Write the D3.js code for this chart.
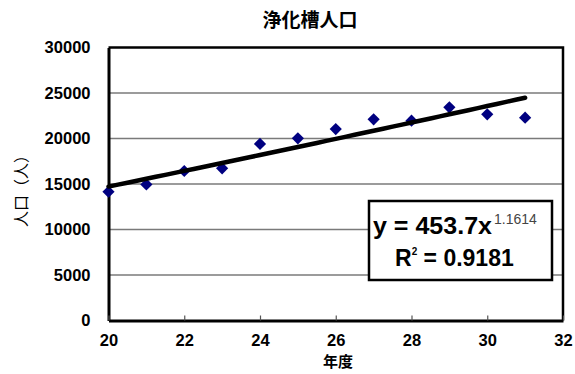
<!DOCTYPE html>
<html>
<head>
<meta charset="utf-8">
<script src="https://cdn.jsdelivr.net/npm/d3@7/dist/d3.min.js"></script>
<style>
  html, body { margin: 0; padding: 0; background: #fff; }
  svg { display: block; }
  text { font-family: "Liberation Sans", Arial, sans-serif; }
  .cjk { font-family: "Noto Sans CJK JP", sans-serif; }
</style>
</head>
<body>
<script>
// 浄化槽人口 by fiscal year
const years = [20, 21, 22, 23, 24, 25, 26, 27, 28, 29, 30, 31];
const population = [14150, 14950, 16430, 16720, 19400, 20020, 21040, 22110, 21960, 23430, 22660, 22290];

// Power trendline y = a * x^b
const trendA = 453.7;
const trendB = 1.1614;
const rSquared = 0.9181;

const xTicks = [20, 22, 24, 26, 28, 30, 32];
const yTicks = [0, 5000, 10000, 15000, 20000, 25000, 30000];

const W = 575, H = 374;
const plotL = 108.5, plotR = 563, plotT = 47.5, plotB = 320.5;

const svg = d3.select("body").append("svg").attr("width", W).attr("height", H);

const x = d3.scaleLinear().domain([20, 32]).range([plotL, plotR]);
const y = d3.scaleLinear().domain([0, 30000]).range([plotB, plotT]);

// Horizontal gridlines
svg.append("g")
  .selectAll("line")
  .data(yTicks.filter(v => v > 0 && v < 30000))
  .join("line")
  .attr("x1", plotL).attr("x2", plotR)
  .attr("y1", d => y(d)).attr("y2", d => y(d))
  .attr("stroke", "#7a7a7a").attr("stroke-width", 1.5);

// Plot frame: top and right edges
svg.append("path")
  .attr("d", `M${plotL},${plotT}H${plotR}V${plotB}`)
  .attr("fill", "none").attr("stroke", "#000").attr("stroke-width", 2.5);

// Y axis
const yAxis = d3.axisLeft(y).tickValues(yTicks).tickSize(0).tickPadding(18).tickFormat(d3.format("d"));
const gy = svg.append("g").attr("transform", `translate(${plotL},0)`).call(yAxis);
gy.select(".domain").attr("stroke", "#000").attr("stroke-width", 3);
gy.selectAll("text")
  .attr("font-size", 16.5).attr("font-weight", "bold").attr("fill", "#000")
  .attr("font-family", "'Liberation Sans', Arial, sans-serif");

// X axis with short inward ticks
const xAxis = d3.axisBottom(x).tickValues(xTicks).tickSizeInner(-5).tickSizeOuter(0).tickPadding(14);
const gx = svg.append("g").attr("transform", `translate(0,${plotB})`).call(xAxis);
gx.select(".domain").attr("stroke", "#000").attr("stroke-width", 3);
gx.selectAll(".tick line").attr("stroke", "#555").attr("stroke-width", 1.2);
gx.selectAll("text")
  .attr("font-size", 16.5).attr("font-weight", "bold").attr("fill", "#000")
  .attr("font-family", "'Liberation Sans', Arial, sans-serif");

// Data markers (diamonds)
const diamond = d3.symbol().type(d3.symbolDiamond2).size(95);
svg.append("g")
  .selectAll("path")
  .data(years.map((yr, i) => [yr, population[i]]))
  .join("path")
  .attr("d", diamond)
  .attr("transform", d => `translate(${x(d[0])},${y(d[1])})`)
  .attr("fill", "#000080");

// Power trendline across the data range
const trendX = d3.range(years[0], years[years.length - 1] + 0.001, 0.25);
const line = d3.line().x(d => x(d)).y(d => y(trendA * Math.pow(d, trendB)));
svg.append("path")
  .datum(trendX)
  .attr("d", line)
  .attr("fill", "none").attr("stroke", "#000").attr("stroke-width", 4.5)
  .attr("stroke-linecap", "round");

// Equation box
const box = svg.append("g");
box.append("rect")
  .attr("x", 369).attr("y", 201).attr("width", 183).attr("height", 79)
  .attr("fill", "#fff").attr("stroke", "#000").attr("stroke-width", 2.5);

const eq = box.append("text").attr("x", 373).attr("y", 234)
  .attr("font-size", 23).attr("font-weight", "bold").attr("fill", "#000");
eq.append("tspan").attr("textLength", 119).attr("lengthAdjust", "spacingAndGlyphs")
  .text(`y = ${trendA}x`);
eq.append("tspan").attr("x", 494).attr("dy", -10).attr("font-size", 14).attr("font-weight", "normal")
  .attr("fill", "#444").text(trendB.toString());

const r2 = box.append("text").attr("x", 395).attr("y", 266)
  .attr("font-size", 23).attr("font-weight", "bold").attr("fill", "#000");
r2.append("tspan").text("R");
r2.append("tspan").attr("font-size", 10).attr("dy", -11).text("2");
r2.append("tspan").attr("dy", 11).text(` = ${rSquared}`);

// Titles
svg.append("text").attr("class", "cjk")
  .attr("x", 310).attr("y", 27).attr("text-anchor", "middle")
  .attr("font-size", 19).attr("font-weight", "bold").text("浄化槽人口");

svg.append("text").attr("class", "cjk")
  .attr("transform", "translate(27,187) rotate(-90)")
  .attr("text-anchor", "middle").attr("font-size", 16).text("人口（人）");

svg.append("text").attr("class", "cjk")
  .attr("x", 338).attr("y", 367).attr("text-anchor", "middle")
  .attr("font-size", 15).attr("font-weight", "bold").text("年度");
</script>
</body>
</html>
